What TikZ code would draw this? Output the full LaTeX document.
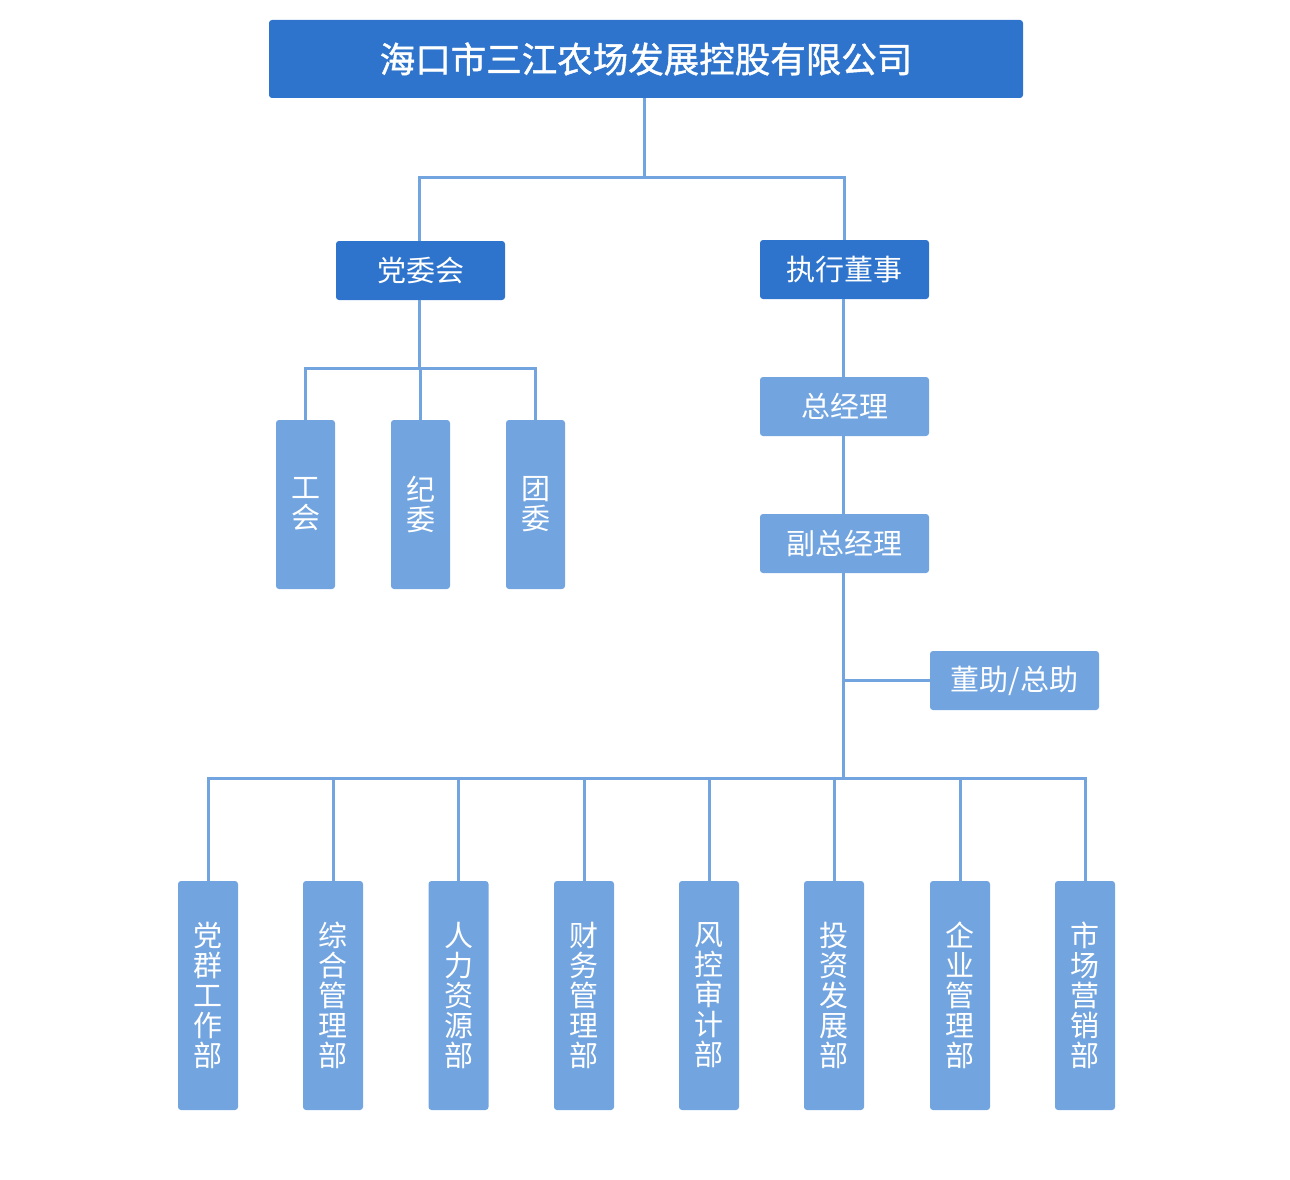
\documentclass[tikz,border=0pt]{standalone}
\usepackage{fontspec}
\newfontfamily\cjk{Noto Sans CJK SC}
\newfontfamily\cjkm[FakeBold=1.2]{Noto Sans CJK SC}
\definecolor{darkblue}{HTML}{2E74CC}
\definecolor{lightblue}{HTML}{72A4E0}
\begin{document}
\begin{tikzpicture}[x=1pt,y=-1pt]
\tikzstyle{box}=[inner sep=0pt,rounded corners=3pt,text=white,align=center,font=\cjk\fontsize{29}{30}\selectfont]
\tikzstyle{dark}=[box,fill=darkblue,minimum width=169pt,minimum height=59pt]
\tikzstyle{light}=[box,fill=lightblue,minimum width=169pt,minimum height=59pt]
\tikzstyle{small}=[box,fill=lightblue,minimum width=59pt,minimum height=169pt]
\tikzstyle{dept}=[box,fill=lightblue,minimum width=60pt,minimum height=229pt]
\tikzstyle{conn}=[draw=lightblue,line width=3pt]
\useasboundingbox (0,0) rectangle (1290,1180);

\path (646,59) node[dark,minimum width=754pt,minimum height=78pt,font=\cjkm\fontsize{35.5}{36}\selectfont](top){海口市三江农场发展控股有限公司};
\path (420.5,270.5) node[dark](dwh){党委会} (844.5,269.5) node[dark](zxds){执行董事};
\path (844.5,406.5) node[light](zjl){总经理} (844.5,543.5) node[light](fzjl){副总经理};
\path (1014.5,680.5) node[light](zz){董助/总助};

\path (305.5,504.5) node[small](s1){工\\会} (420.5,504.5) node[small](s2){纪\\委} (535.5,504.5) node[small](s3){团\\委};

\path (208,995.5) node[dept](d1){党\\群\\工\\作\\部};
\path (333,995.5) node[dept](d2){综\\合\\管\\理\\部};
\path (458.5,995.5) node[dept](d3){人\\力\\资\\源\\部};
\path (584,995.5) node[dept](d4){财\\务\\管\\理\\部};
\path (709,995.5) node[dept](d5){风\\控\\审\\计\\部};
\path (834,995.5) node[dept](d6){投\\资\\发\\展\\部};
\path (960,995.5) node[dept](d7){企\\业\\管\\理\\部};
\path (1085,995.5) node[dept](d8){市\\场\\营\\销\\部};

\coordinate (b1) at (644,177);
\coordinate (b2) at (419,368);
\coordinate (b3) at (843,778);

\draw[conn] (top.south -| b1) -- (b1);
\draw[conn] (dwh.north -| b2) |- (b1) -| (zxds.north);
\draw[conn] (dwh.south -| b2) -- (b2);
\foreach \n in {s1,s2,s3} \draw[conn] (\n.north) |- (b2);
\draw[conn] (zxds.south -| b3) -- (zjl.north -| b3);
\draw[conn] (zjl.south -| b3) -- (fzjl.north -| b3);
\draw[conn] (fzjl.south -| b3) -- (b3);
\draw[conn] (zz.west) -- (zz.west -| b3);
\foreach \n in {d1,d2,d3,d4,d5,d6,d7,d8} \draw[conn] (\n.north) |- (b3);
\end{tikzpicture}
\end{document}
